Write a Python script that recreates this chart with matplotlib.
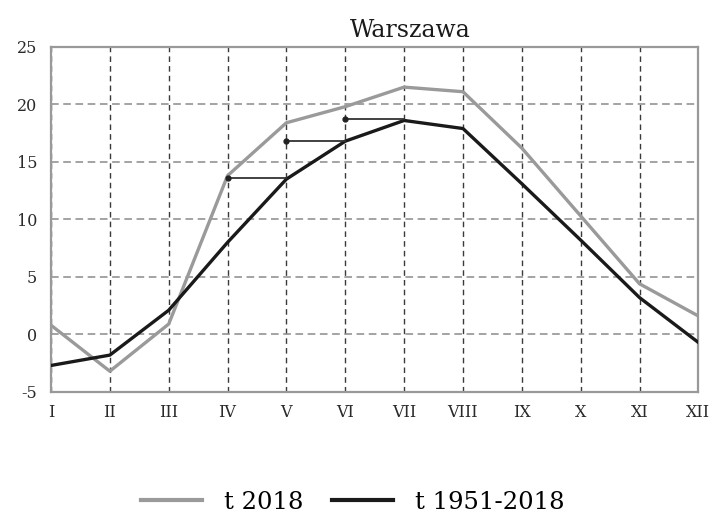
import matplotlib
matplotlib.use('Agg')
import matplotlib.pyplot as plt
from matplotlib.lines import Line2D

months = ['I', 'II', 'III', 'IV', 'V', 'VI', 'VII', 'VIII', 'IX', 'X', 'XI', 'XII']
t_2018 = [0.8, -3.2, 0.9, 13.8, 18.4, 19.8, 21.5, 21.1, 16.2, 10.3, 4.4, 1.6]
t_1951_2018 = [-2.7, -1.8, 2.1, 8.0, 13.5, 16.8, 18.6, 17.9, 13.1, 8.2, 3.2, -0.7]
# short horizontal lines: (start month index, end month index, value)
shifts = [(3, 4, 13.6), (4, 5, 16.8), (5, 6, 18.7)]

plt.rcParams['font.family'] = ['DejaVu Serif']

fig = plt.figure(figsize=(7.13, 5.15), dpi=100)
ax = fig.add_axes([0.0715, 0.239, 0.908, 0.670])

x = list(range(len(months)))
ax.plot(x, t_2018, color='#9a9a9a', lw=2.4, zorder=3)
ax.plot(x, t_1951_2018, color='#1a1a1a', lw=2.4, zorder=4)
for a, b, v in shifts:
    ax.plot([a, b], [v, v], color='#333333', lw=1.3, zorder=5)
    ax.plot([a], [v], marker='o', ms=3.5, color='#222222', zorder=5)

ax.set_xlim(0, 11)
ax.set_ylim(-5, 25)
ax.set_xticks(x)
ax.set_xticklabels(months, fontsize=11.5, color='#2a2a2a')
ax.set_yticks(range(-5, 30, 5))
ax.set_yticklabels([str(v) for v in range(-5, 30, 5)], fontsize=11.5, color='#2a2a2a')
ax.tick_params(length=0, pad=9)
ax.tick_params(axis='y', pad=10)

ax.xaxis.grid(True, color='#3a3a3a', linestyle=(0, (4, 3)), lw=1.0)
ax.yaxis.grid(True, color='#8a8a8a', linestyle=(0, (5, 3)), lw=1.1)
for s in ax.spines.values():
    s.set_color('#999999')
    s.set_linewidth(1.6)

fig.text(0.575, 0.94, 'Warszawa', ha='center', va='center', fontsize=17, color='#1a1a1a')

handles = [Line2D([0], [0], color='#9a9a9a', lw=3),
           Line2D([0], [0], color='#1a1a1a', lw=3)]
fig.legend(handles, ['t 2018', 't 1951-2018'], loc='center', bbox_to_anchor=(0.495, 0.025),
           ncol=2, frameon=False, fontsize=17.5, handlelength=2.5, handletextpad=0.9,
           columnspacing=1.2)

fig.savefig('out.png', dpi=100)
